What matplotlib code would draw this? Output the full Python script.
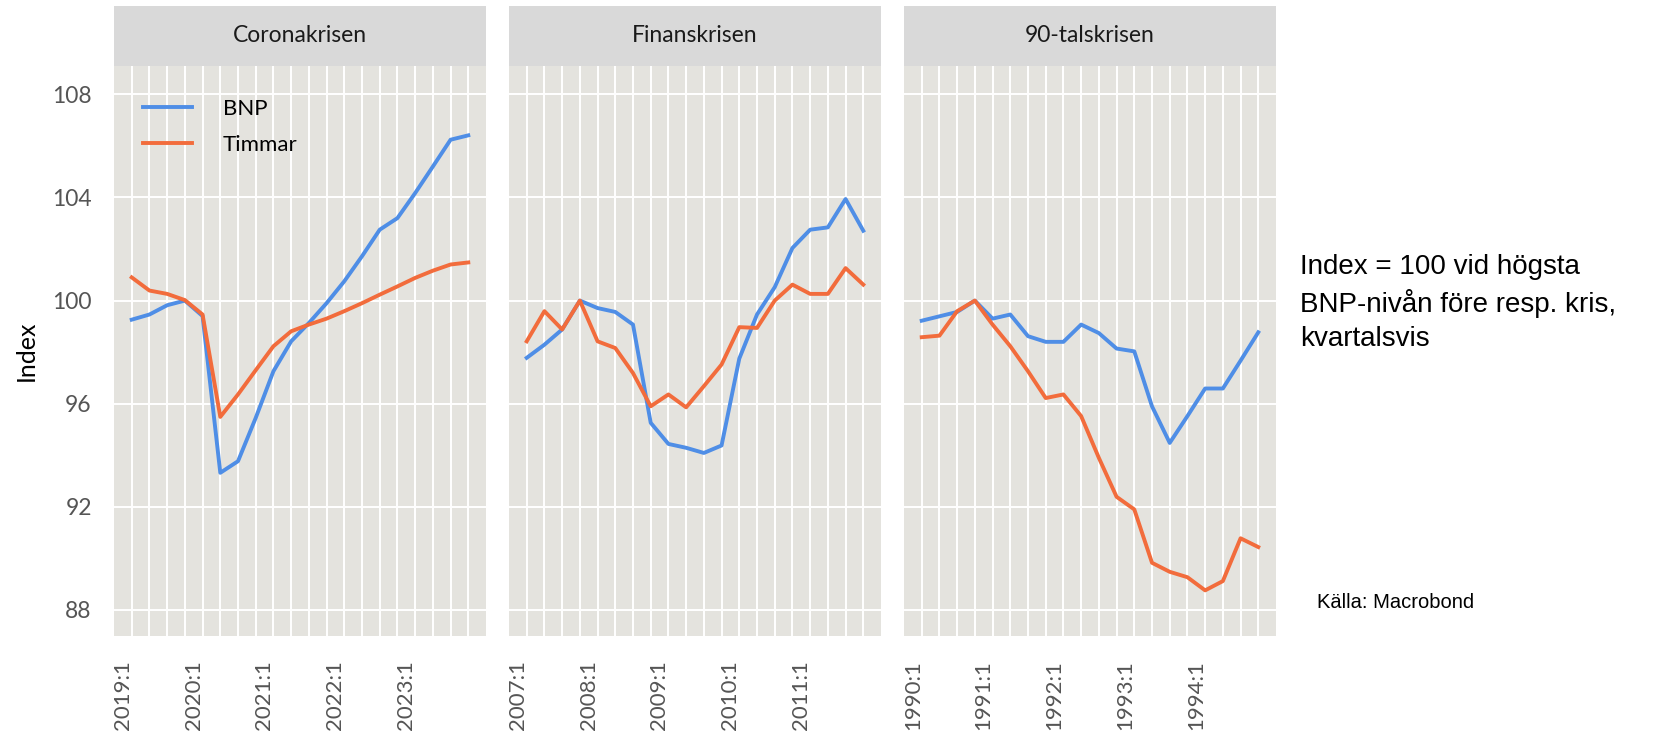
import matplotlib.pyplot as plt
from matplotlib import transforms

# Paneler (kriser) och tick-etiketter
kriser = ["Coronakrisen", "Finanskrisen", "90-talskrisen"]
etiketter = [
    ["2019:1", "2020:1", "2021:1", "2022:1", "2023:1"],
    ["2007:1", "2008:1", "2009:1", "2010:1", "2011:1"],
    ["1990:1", "1991:1", "1992:1", "1993:1", "1994:1"],
]

# BNP, index (20 kvartal per kris)
bnp_corona = [99.26, 99.46, 99.82, 100.0, 99.4, 93.32, 93.77, 95.45, 97.26, 98.42,
              99.13, 99.9, 100.75, 101.72, 102.75, 103.2, 104.17, 105.2, 106.24, 106.41]
bnp_finans = [97.78, 98.29, 98.88, 100.0, 99.71, 99.56, 99.07, 95.26, 94.44, 94.29,
              94.09, 94.38, 97.75, 99.46, 100.52, 102.04, 102.75, 102.84, 103.94, 102.71]
bnp_90tal = [99.22, 99.39, 99.56, 100.0, 99.3, 99.46, 98.62, 98.4, 98.4, 99.07,
             98.74, 98.14, 98.03, 95.9, 94.48, 95.52, 96.59, 96.59, 97.67, 98.77]

# Arbetade timmar, index
tim_corona = [100.9, 100.39, 100.26, 100.02, 99.46, 95.49, 96.36, 97.3, 98.23, 98.81,
              99.07, 99.3, 99.59, 99.9, 100.23, 100.55, 100.88, 101.16, 101.4, 101.48]
tim_finans = [98.42, 99.59, 98.88, 100.0, 98.42, 98.16, 97.19, 95.9, 96.36, 95.86,
              96.68, 97.52, 98.97, 98.94, 100.0, 100.62, 100.26, 100.26, 101.26, 100.62]
tim_90tal = [98.58, 98.64, 99.59, 100.0, 99.07, 98.23, 97.26, 96.22, 96.36, 95.52,
             93.9, 92.39, 91.9, 89.83, 89.48, 89.27, 88.76, 89.12, 90.78, 90.44]

bnp = [bnp_corona, bnp_finans, bnp_90tal]
timmar = [tim_corona, tim_finans, tim_90tal]
yticks = [88, 92, 96, 100, 104, 108]

BLA = "#4f8ee6"
ORANGE = "#f26c3c"
PANEL = "#e4e3de"
STRIP = "#d9d9d9"
TXT = "#555555"

plt.rcParams["font.family"] = ["Lato", "DejaVu Sans"]

fig = plt.figure(figsize=(16.69, 7.37), dpi=100)
W, H = 1669, 737

lefts = [114, 509, 904]
pw = 372
ptop, pbot = 66, 636
stop = 6

for k in range(3):
    ax = fig.add_axes([lefts[k] / W, 1 - pbot / H, pw / W, (pbot - ptop) / H])
    ax.set_facecolor(PANEL)
    x = list(range(len(bnp[k])))
    ax.plot(x, bnp[k], color=BLA, lw=2.8, label="BNP")
    ax.plot(x, timmar[k], color=ORANGE, lw=2.8, label="Timmar")
    ax.set_xlim(-1, len(x))
    ax.set_ylim(86.99, 109.1)
    ax.set_xticks(x)
    ax.set_yticks(yticks)
    ax.grid(True, color="white", lw=1.4)
    ax.set_axisbelow(True)
    for s in ax.spines.values():
        s.set_visible(False)
    ax.tick_params(axis="x", length=0, labelbottom=False)
    if k == 0:
        ax.tick_params(axis="y", length=0, pad=16, labelsize=16.5, labelcolor=TXT)
        ax.set_ylabel("Index", fontsize=18, color="black")
        ax.yaxis.set_label_coords(-0.205, 0.5)
        ax.legend(loc="upper left", bbox_to_anchor=(0.078, 0.942), frameon=False,
                  fontsize=16, handlelength=2.2, handletextpad=1.4,
                  labelspacing=0.72, borderpad=0, borderaxespad=0)
    else:
        ax.tick_params(axis="y", length=0, labelleft=False)

    # x-etiketter, roterade och nederkantsjusterade
    off = transforms.ScaledTranslation(-9 / 100, 0, fig.dpi_scale_trans)
    tr = transforms.blended_transform_factory(ax.transData + off, fig.transFigure)
    for j, lab in enumerate(etiketter[k]):
        ax.text(j * 4, 1 - 730 / H, lab, transform=tr, rotation=90, ha="center",
                va="bottom", fontsize=16, color=TXT)

    # rubrikremsa
    sax = fig.add_axes([lefts[k] / W, 1 - ptop / H, pw / W, (ptop - stop) / H])
    sax.set_facecolor(STRIP)
    sax.set_xticks([])
    sax.set_yticks([])
    for s in sax.spines.values():
        s.set_visible(False)
    sax.text(0.5, 0.5, kriser[k], ha="center", va="center", fontsize=16.5,
             color="#1a1a1a", transform=sax.transAxes)

fig.text(1300 / W, 1 - 303 / H,
         "Index = 100 vid högsta\nBNP-nivån före resp. kris,\nkvartalsvis",
         ha="left", va="center", fontsize=20, linespacing=1.4,
         family=["Liberation Sans", "DejaVu Sans"], color="black")
fig.text(1317 / W, 1 - 603 / H, "Källa: Macrobond", ha="left", va="center",
         fontsize=14.5, family=["Liberation Sans", "DejaVu Sans"], color="black")

fig.savefig("out.png", dpi=100)
